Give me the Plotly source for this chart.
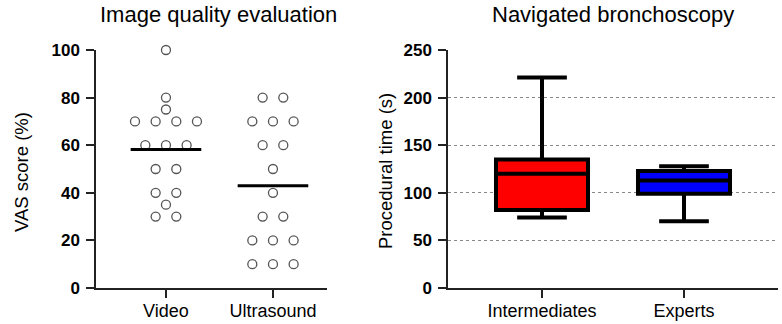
import numpy as np
import plotly.graph_objects as go

# ---- data ----
vas_categories = ["Video", "Ultrasound"]
vas_video = [100, 80, 75, 70, 70, 70, 70, 60, 60, 60, 50, 50, 40, 40, 35, 30, 30]
vas_ultrasound = [80, 80, 70, 70, 70, 60, 60, 50, 40, 30, 30, 20, 20, 20, 10, 10, 10]
vas_ticks = [0, 20, 40, 60, 80, 100]

box_categories = ["Intermediates", "Experts"]
box_lowerfence = [74, 70]
box_q1 = [82, 99]
box_median = [120, 113]
box_q3 = [135, 123]
box_upperfence = [221, 128]
box_colors = ["#ff0000", "#0000ff"]
time_ticks = [0, 50, 100, 150, 200, 250]

FONT = "Arial, Liberation Sans, Helvetica, sans-serif"
W, H = 782, 324
PLOT_TOP, PLOT_BOT = 50, 288
T, B = PLOT_TOP, H - PLOT_BOT
PH = H - T - B

def pxx(p):
    return p / W

def pxy(p):
    return (PLOT_BOT - p) / PH

fig = go.Figure()

# beeswarm offsets for equal values (centered)
SPACING = 0.193
def swarm(vals, center):
    xs = []
    vals = list(vals)
    seen = {}
    counts = {v: vals.count(v) for v in vals}
    for v in vals:
        k = seen.get(v, 0)
        seen[v] = k + 1
        n = counts[v]
        xs.append(center + (k - (n - 1) / 2) * SPACING)
    return xs

for i, vals in enumerate([vas_video, vas_ultrasound]):
    fig.add_trace(go.Scatter(
        x=swarm(vals, i), y=vals, mode="markers", cliponaxis=False,
        marker=dict(symbol="circle-open", size=9, color="#555555", line=dict(width=1.3)),
        xaxis="x", yaxis="y", showlegend=False, hoverinfo="skip"))
for i, vals in enumerate([vas_video, vas_ultrasound]):
    m = float(np.mean(vals))
    fig.add_trace(go.Scatter(
        x=[i - 0.33, i + 0.33], y=[m, m], mode="lines",
        line=dict(color="black", width=3),
        xaxis="x", yaxis="y", showlegend=False, hoverinfo="skip"))

for i in range(len(box_categories)):
    fig.add_trace(go.Box(
        x=[i], q1=[box_q1[i]], median=[box_median[i]], q3=[box_q3[i]],
        lowerfence=[box_lowerfence[i]], upperfence=[box_upperfence[i]],
        width=0.648, whiskerwidth=0.54, boxpoints=False,
        fillcolor=box_colors[i], line=dict(color="black", width=4),
        xaxis="x2", yaxis="y2", showlegend=False, hoverinfo="skip"))

axis_common = dict(showline=True, linecolor="#222222", linewidth=1.5,
                   ticks="outside", ticklen=8, tickwidth=1.5, tickcolor="#222222",
                   zeroline=False, showgrid=False)

fig.update_layout(
    width=W, height=H, margin=dict(l=0, r=0, t=T, b=B),
    paper_bgcolor="white", plot_bgcolor="white",
    font=dict(family=FONT, color="black"),
    xaxis=dict(domain=[pxx(96), pxx(327)], range=[-0.654, 1.505],
               tickvals=[0, 1], ticktext=vas_categories, ticklabelstandoff=-2,
               tickfont=dict(size=18), anchor="y", **axis_common),
    yaxis=dict(domain=[0, 1], range=[0, 100], tickvals=vas_ticks, ticklabelstandoff=3,
               tickfont=dict(size=17, weight="bold"), anchor="x", **axis_common),
    xaxis2=dict(domain=[pxx(448), pxx(778)], range=[-0.662, 1.662],
                tickvals=[0, 1], ticktext=box_categories, ticklabelstandoff=-2,
                tickfont=dict(size=18), anchor="y2", **axis_common),
    yaxis2=dict(domain=[0, 1], range=[0, 250], tickvals=time_ticks, ticklabelstandoff=3,
                tickfont=dict(size=17, weight="bold"), anchor="x2",
                **{**axis_common, "showgrid": True},
                gridcolor="#888888", gridwidth=1, griddash="dot"),
)

annots = [
    dict(text="Image quality evaluation", x=pxx(218), y=pxy(14), font=dict(size=22)),
    dict(text="Navigated bronchoscopy", x=pxx(613), y=pxy(14), font=dict(size=22)),
    dict(text="VAS score (%)", x=pxx(21), y=pxy(172), font=dict(size=18.5), textangle=-90),
    dict(text="Procedural time (s)", x=pxx(385), y=pxy(171), font=dict(size=18.5), textangle=-90),
]
for a in annots:
    fig.add_annotation(xref="paper", yref="paper", showarrow=False,
                       xanchor="center", yanchor="middle", **a)

fig.write_html("out.html", config={"displayModeBar": False},
               post_script="document.body.style.margin='0';")
